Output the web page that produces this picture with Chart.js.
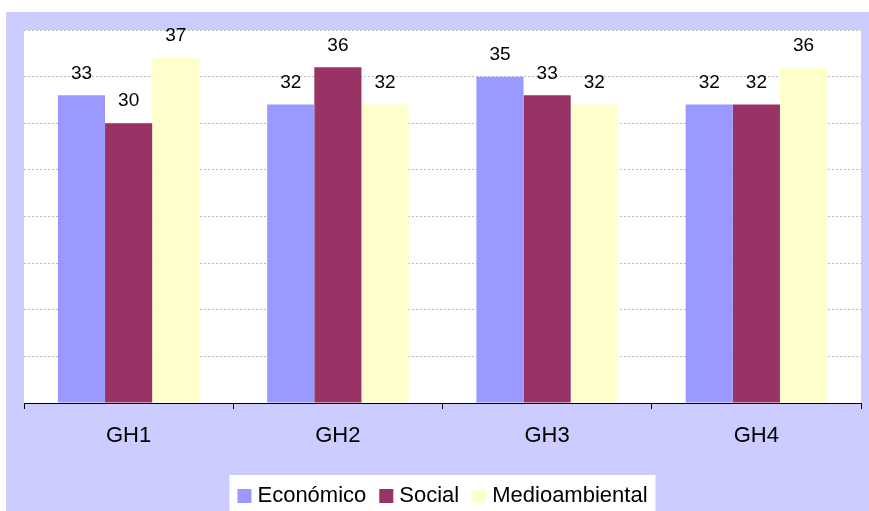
<!DOCTYPE html>
<html>
<head>
<meta charset="utf-8">
<script src="https://cdn.jsdelivr.net/npm/chart.js@4"></script>
<style>
  html, body { margin: 0; padding: 0; background: #fff; }
  #chart { display: block; }
</style>
</head>
<body>
<canvas id="chart" width="869" height="511"></canvas>
<script>
// data
const categories = ['GH1', 'GH2', 'GH3', 'GH4'];
const economico = [33, 32, 35, 32];
const social = [30, 36, 33, 32];
const medioambiental = [37, 32, 32, 36];
const seriesNames = ['Económico', 'Social', 'Medioambiental'];
const seriesColors = ['#9999FF', '#993366', '#FFFFCC'];

const FONT = '"Liberation Sans", Arial, sans-serif';

// lavender frame + white plot area
const backgroundPlugin = {
  id: 'backgroundPlugin',
  beforeDraw(chart) {
    const { ctx, chartArea } = chart;
    ctx.save();
    ctx.fillStyle = '#fff';
    ctx.fillRect(0, 0, chart.width, chart.height);
    ctx.fillStyle = '#CCCCFF';
    ctx.fillRect(6, 12, chart.width - 6, chart.height - 12);
    ctx.fillStyle = '#fff';
    ctx.fillRect(chartArea.left, chartArea.top,
      chartArea.right - chartArea.left, chartArea.bottom - chartArea.top);
    ctx.restore();
  }
};

// value above each bar
const valueLabels = {
  id: 'valueLabels',
  afterDatasetsDraw(chart) {
    const { ctx } = chart;
    ctx.save();
    ctx.font = '19px ' + FONT;
    ctx.fillStyle = '#000';
    ctx.textAlign = 'center';
    ctx.textBaseline = 'middle';
    chart.data.datasets.forEach((ds, i) => {
      chart.getDatasetMeta(i).data.forEach((bar, j) => {
        ctx.fillText(String(ds.data[j]), bar.x, bar.y - 22);
      });
    });
    ctx.restore();
  }
};

// legend in a white box under the axis
const boxLegend = {
  id: 'boxLegend',
  afterDraw(chart) {
    const { ctx, chartArea } = chart;
    ctx.save();
    ctx.font = '22px ' + FONT;
    const box = 14, gapText = 6, gapItem = 13, pad = 8;
    const widths = chart.data.datasets.map(ds => ctx.measureText(ds.label).width);
    let total = pad * 2;
    widths.forEach((w, i) => { total += box + gapText + w + (i < widths.length - 1 ? gapItem : 0); });
    const cx = (chartArea.left + chartArea.right) / 2;
    let x = cx - total / 2;
    ctx.fillStyle = '#fff';
    ctx.fillRect(x, 475, total, chart.height - 475);
    x += pad;
    const cy = 496;
    ctx.textBaseline = 'middle';
    ctx.textAlign = 'left';
    chart.data.datasets.forEach((ds, i) => {
      ctx.fillStyle = ds.backgroundColor;
      ctx.fillRect(x, cy - 7, box, box);
      x += box + gapText;
      ctx.fillStyle = '#000';
      ctx.fillText(ds.label, x, cy);
      x += widths[i] + gapItem;
    });
    ctx.restore();
  }
};

const seriesData = [economico, social, medioambiental];

new Chart(document.getElementById('chart'), {
  type: 'bar',
  data: {
    labels: categories,
    datasets: seriesData.map((d, i) => ({
      label: seriesNames[i],
      data: d,
      backgroundColor: seriesColors[i],
      borderWidth: 0,
      categoryPercentage: 0.676,
      barPercentage: 1
    }))
  },
  options: {
    responsive: false,
    animation: false,
    layout: { padding: { left: 24, top: 30, right: 8, bottom: 0 } },
    plugins: {
      legend: { display: false },
      tooltip: { enabled: false }
    },
    scales: {
      x: {
        afterFit(scale) { scale.height = 108; },
        grid: {
          drawOnChartArea: false,
          drawTicks: true,
          tickLength: 6,
          tickColor: '#000',
          color: '#000'
        },
        border: { display: true, color: '#000', width: 1 },
        ticks: {
          color: '#000',
          font: { family: FONT, size: 22 },
          padding: 14
        }
      },
      y: {
        min: 0,
        max: 40,
        afterFit(scale) { scale.width = 0; },
        ticks: { display: false, stepSize: 5 },
        grid: { color: '#BBBBBB', drawTicks: false, lineWidth: 1 },
        border: { display: false, dash: [2, 2] }
      }
    }
  },
  plugins: [backgroundPlugin, valueLabels, boxLegend]
});
</script>
</body>
</html>
